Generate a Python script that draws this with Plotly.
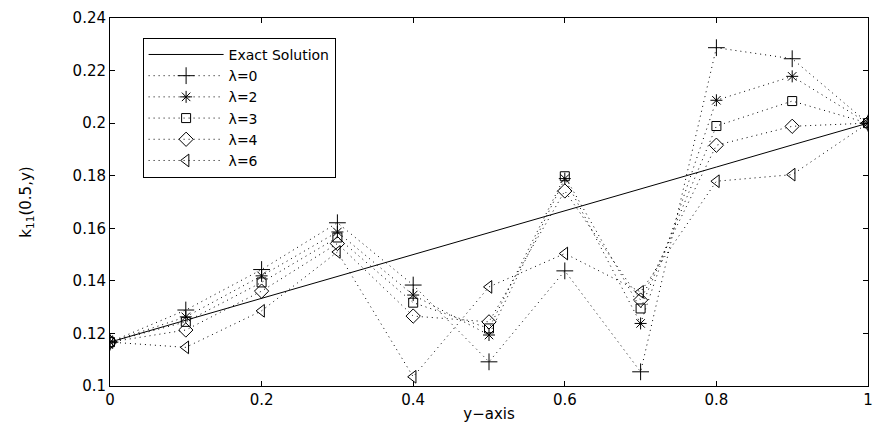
import plotly.graph_objects as go

x = [0.0, 0.1, 0.2, 0.3, 0.4, 0.5, 0.6, 0.7, 0.8, 0.9, 1.0]
exact = [0.1167, 0.1250, 0.1333, 0.1417, 0.1500, 0.1583, 0.1667, 0.1750, 0.1833, 0.1917, 0.2000]
lam0 = [0.1167, 0.1289, 0.1443, 0.1621, 0.1384, 0.1092, 0.1438, 0.1054, 0.2287, 0.2245, 0.2000]
lam2 = [0.1167, 0.1263, 0.1419, 0.1586, 0.1346, 0.1194, 0.1789, 0.1238, 0.2087, 0.2178, 0.2000]
lam3 = [0.1167, 0.1244, 0.1394, 0.1565, 0.1317, 0.1219, 0.1798, 0.1295, 0.1989, 0.2084, 0.2000]
lam4 = [0.1167, 0.1213, 0.1361, 0.1542, 0.1266, 0.1244, 0.1742, 0.1327, 0.1916, 0.1988, 0.2000]
lam6 = [0.1167, 0.1147, 0.1286, 0.1510, 0.1035, 0.1377, 0.1504, 0.1358, 0.1779, 0.1804, 0.2000]

x_ticks = [0, 0.2, 0.4, 0.6, 0.8, 1]
x_ticktext = ["0", "0.2", "0.4", "0.6", "0.8", "1"]
y_ticks = [0.1, 0.12, 0.14, 0.16, 0.18, 0.2, 0.22, 0.24]
y_ticktext = ["0.1", "0.12", "0.14", "0.16", "0.18", "0.2", "0.22", "0.24"]

FONT = "DejaVu Sans"

fig = go.Figure()
fig.add_trace(go.Scatter(x=x, y=exact, mode="lines", name="Exact Solution",
                         line=dict(color="black", width=1)))

series = [
    ("λ=0", lam0, "cross-thin-open", 12),
    ("λ=2", lam2, "asterisk-open", 10),
    ("λ=3", lam3, "square-open", 9),
    ("λ=4", lam4, "diamond-open", 11),
    ("λ=6", lam6, "triangle-left-open", 11),
]
for name, vals, sym, sz in series:
    fig.add_trace(go.Scatter(
        x=x, y=vals, mode="lines+markers", name=name,
        line=dict(color="black", width=1, dash="1px,4px"),
        marker=dict(symbol=sym, size=sz, color="black",
                    line=dict(color="black", width=1)),
    ))

axis_common = dict(
    showline=True, linecolor="black", linewidth=1, mirror="ticks",
    ticks="inside", ticklen=5, tickcolor="black", showgrid=False,
    zeroline=False, tickfont=dict(family=FONT, size=15, color="black"),
    ticklabeloverflow="allow",
)

fig.update_layout(
    width=882, height=439,
    margin=dict(l=110, r=9, t=17, b=53),
    plot_bgcolor="white", paper_bgcolor="white",
    font=dict(family=FONT, size=14, color="black"),
    xaxis=dict(range=[0, 1], tickvals=x_ticks, ticktext=x_ticktext,
               title=dict(text="y−axis", font=dict(family=FONT, size=15), standoff=0),
               **axis_common),
    yaxis=dict(range=[0.1, 0.24], tickvals=y_ticks, ticktext=y_ticktext,
               title=dict(text="k<sub>11</sub>(0.5,y)", font=dict(family=FONT, size=15), standoff=37),
               **axis_common),
    legend=dict(x=0.043, y=0.946, xanchor="left", yanchor="top",
                bgcolor="white", bordercolor="black", borderwidth=1,
                font=dict(family=FONT, size=14, color="black"),
                itemwidth=75, tracegroupgap=0),
    showlegend=True,
)

fig.write_html("out.html", config={"displayModeBar": False},
               post_script="document.body.style.margin='0';")
